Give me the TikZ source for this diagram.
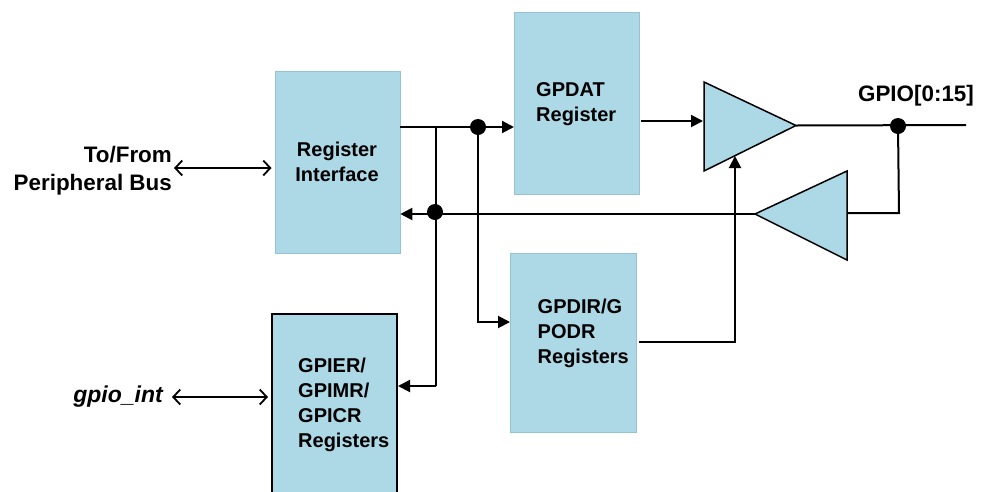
\documentclass[tikz,border=0pt]{standalone}
\usepackage{fontspec}
\setmainfont{Liberation Sans}
\usetikzlibrary{arrows.meta,shapes.geometric}
\definecolor{boxblue}{RGB}{173,216,230}
\definecolor{boxedge}{RGB}{150,195,212}
\tikzset{
 x=1pt,y=-1pt,
 reg/.style={draw=#1,fill=boxblue,line width=0.8pt,inner sep=0pt,anchor=north west},
 lab/.style={font=\fontsize{20}{25}\selectfont\bfseries,align=left,inner sep=0pt,anchor=west},
 big/.style={font=\fontsize{22.4}{28}\selectfont\bfseries},
 wire/.style={line width=2pt,-{Triangle[length=12pt,width=12pt]}},
 plain/.style={line width=2pt},
 bi/.style={line width=1.8pt,{Straight Barb[length=7pt,width=15pt]}-{Straight Barb[length=7pt,width=15pt]}},
 tri/.style={draw=black,fill=boxblue,line width=1.5pt,line join=miter},
 dot/.style={circle,fill=black,inner sep=0pt,minimum size=16pt},
}
\begin{document}
\begin{tikzpicture}
\useasboundingbox (0,0) rectangle (986,491);
\node[reg=boxedge,minimum width=125pt,minimum height=182pt] (ri) at (274.5,71) {};
\node[lab,align=center,anchor=center] (ril) at (337,162) {Register\\Interface};
\node[reg=boxedge,minimum width=125pt,minimum height=182pt] (dat) at (514,12) {};
\node[lab] (datl) at (536,104) {GPDAT\\Register};
\node[reg=boxedge,minimum width=126pt,minimum height=179pt] (dir) at (510,253) {};
\node[lab] (dirl) at (537.5,333.5) {GPDIR/G\\PODR\\Registers};
\node[reg=black,line width=2pt,minimum width=125pt,minimum height=180pt] (ier) at (271,313) {};
\node[lab] (ierl) at (298,405) {GPIER/\\GPIMR/\\GPICR\\Registers};
\coordinate (txL) at (704,82);
\coordinate (txR) at (796,125.5);
\coordinate (txB) at (704,171);
\coordinate (rxT) at (847,171);
\coordinate (rxL) at (755,214);
\coordinate (rxB) at (847,260);
\draw[tri] (txL) -- (txR) -- (txB) -- cycle;
\draw[tri] (rxT) -- (rxL) -- (rxB) -- cycle;
\coordinate (rxin) at (847,213);
\coordinate (end) at (966,125);
\coordinate (tj) at (436,127);
\coordinate (bj) at (436,386);
\coordinate (dj) at (478,322);
\coordinate (vj) at (735,342);
\coordinate (vt) at (735,156);
\coordinate (sj) at (899,213);
\node[dot] (d1) at (478,127) {};
\node[dot] (d2) at (435,212) {};
\node[dot] (d3) at (898,126) {};
\draw[plain] (ri.east|-d1) -- (d1);
\draw[wire] (d1) -- (dat.west|-d1);
\draw[wire] (d1) -- (dj) -- (dir.west|-dj);
\draw[plain] (tj) -- (bj);
\draw[wire] (bj) -- (ier.east|-bj);
\draw[wire] (rxL) -- (ri.east|-rxL);
\draw[plain] (txR) -- (end);
\draw[plain] (d3) -- (sj) -- (rxin);
\draw[wire] (641,121) -- (703,121);
\draw[wire] (639,342) -- (vj) -- (vt);
\draw[bi] (174,168) -- ([xshift=-3pt]ri.west|-174,168);
\draw[bi] (172,397) -- ([xshift=-3pt]ier.west|-172,397);
\node[lab,big,align=right,anchor=east] (tof) at (172,171) {To/From\\Peripheral Bus};
\node[lab,big,anchor=east,font=\fontsize{23}{28}\selectfont\bfseries\itshape] (gi) at (163,397) {gpio\_int};
\node[lab,big,anchor=center] (gp) at (916,96) {GPIO[0:15]};
\end{tikzpicture}
\end{document}
